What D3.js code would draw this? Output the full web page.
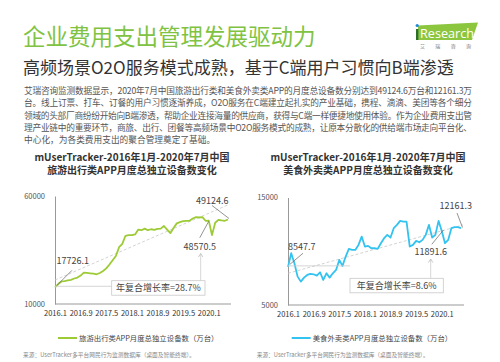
<!DOCTYPE html>
<html>
<head>
<meta charset="utf-8">
<script src="https://cdn.jsdelivr.net/npm/d3@7"></script>
<style>
  body { margin: 0; background: #fff; }
  svg { display: block; font-family: "Noto Sans CJK SC", "Noto Sans", sans-serif; }
</style>
</head>
<body>
<svg id="page" width="500" height="362"></svg>
<script>
// month index 0 = 2016.1 ... 54 = 2020.7
const xTickIdx = [0, 8, 16, 24, 32, 40, 48];
const xTickLabels = ["2016.1", "2016.9", "2017.5", "2018.1", "2018.9", "2019.5", "2020.1"];

const travelValues = [17726.1, 19236, 20444, 20595, 20897, 21199, 21803, 22256, 23162, 24521,
  24370, 24219, 24068, 23766, 24370, 25276, 26484, 28296, 30259, 32222,
  36299, 37809, 41584, 41886, 41886, 42188, 44453, 44151, 44906, 44151,
  44604, 44302, 44755, 44906, 46114, 44453, 42792, 45208, 47322, 47926,
  48379, 48530, 48530, 49587, 50191, 50040, 50191, 48530, 48570.5, 41886,
  47624, 48983, 48681, 48530, 49124.6];
const foodValues = [8547.7, 9814, 8883, 7640, 7174, 7547, 7795, 7889, 7858, 7733,
  8044, 7330, 7951, 7547, 7951, 8261, 9193, 8634, 9504, 10218,
  10125, 10125, 10591, 11367, 10436, 10498, 10280, 10280, 10218, 10746,
  11212, 11523, 11274, 12144, 12454, 12827, 12765, 12765, 10436, 10591,
  10964, 10839, 11057, 11523, 12454, 11274, 11523, 12827, 11891.6, 10746,
  11057, 12144, 12237, 12237, 12161.3];

const travelTrend = [[0, 21100], [54.5, 56200]];
const foodTrend = [[0, 7950], [54.6, 12440]];

const bodyLines = [
  "艾瑞咨询监测数据显示，2020年7月中国旅游出行类和美食外卖类APP的月度总设备数分别达到49124.6万台和12161.3万",
  "台。线上订票、打车、订餐的用户习惯逐渐养成，O2O服务在C端建立起扎实的产业基础，携程、滴滴、美团等各个细分",
  "领域的头部厂商纷纷开始向B端渗透，帮助企业连接海量的供应商，获得与C端一样便捷地使用体验。作为企业费用支出管",
  "理产业链中的重要环节，商旅、出行、团餐等高频场景中O2O服务模式的成熟，让原本分散化的供给端市场走向平台化、",
  "中心化，为各类费用支出的聚合管理奠定了基础。"
];

var svg = d3.select("#page");

// header
svg.append("text").attr("x", 23).attr("y", 45)
   .attr("font-size", 22.5).attr("fill", "#80c342")
   .text("企业费用支出管理发展驱动力");
svg.append("text").attr("x", 23).attr("y", 74)
   .attr("font-size", 17).attr("fill", "#333")
   .text("高频场景O2O服务模式成熟，基于C端用户习惯向B端渗透");

// logo
var logo = svg.append("g");
logo.append("path")
    .attr("d", "M418,25.5 L478,22.5 L472,40 L418,40 Z")
    .attr("fill", "#8cc63f");
logo.append("rect").attr("x", 416).attr("y", 29).attr("width", 2.4).attr("height", 11).attr("fill", "#2d6e2a");
logo.append("circle").attr("cx", 417.2).attr("cy", 25.5).attr("r", 1.6).attr("fill", "#1e88d8");
logo.append("text").attr("x", 420).attr("y", 38)
    .attr("font-size", 12.5).attr("fill", "#fff").attr("font-family", "Open Sans, sans-serif")
    .attr("textLength", 54).attr("lengthAdjust", "spacingAndGlyphs")
    .text("Research");
logo.append("text").attr("x", 420).attr("y", 47.5)
    .attr("font-size", 5).attr("fill", "#777")
    .attr("textLength", 51).attr("lengthAdjust", "spacing")
    .text("艾瑞咨询");

// body paragraph
bodyLines.forEach(function (line, i) {
  var t = svg.append("text")
     .attr("x", 24).attr("y", 94 + i * 12.3)
     .attr("font-size", 8.7).attr("fill", "#555")
     .text(line);
  if (i < bodyLines.length - 1) {
    t.attr("textLength", 448).attr("lengthAdjust", "spacing");
  }
});

function drawChart(cfg) {
  var g = svg.append("g");
  var x = d3.scaleLinear().domain([0, cfg.values.length - 1]).range(cfg.xRange);
  var y = d3.scaleLinear().domain(cfg.yDomain).range(cfg.yRange);

  // titles
  cfg.title.forEach(function (t, i) {
    g.append("text").attr("x", cfg.titleX).attr("y", 160.5 + i * 13.5)
     .attr("text-anchor", "middle").attr("font-size", 10)
     .attr("font-weight", "bold").attr("fill", "#333")
     .text(t);
  });

  // axes
  var xAxis = g.append("g")
    .attr("transform", "translate(0," + cfg.yRange[0] + ")")
    .call(d3.axisBottom(x).tickValues(xTickIdx)
      .tickFormat(function (d, i) { return xTickLabels[i]; })
      .tickSize(0).tickPadding(7));
  xAxis.select(".domain").attr("stroke", "#999").attr("d",
    "M" + cfg.xRange[0] + ",0H" + (cfg.xRange[1] + 3));
  xAxis.selectAll("text").attr("font-size", 7.5).attr("fill", "#333")
    .attr("font-family", "Noto Sans CJK SC, sans-serif");

  var yAxis = g.append("g")
    .attr("transform", "translate(" + cfg.xRange[0] + ",0)")
    .call(d3.axisLeft(y).tickValues(cfg.yDomain).tickFormat(d3.format("d"))
      .tickSize(0).tickPadding(10));
  yAxis.select(".domain").attr("stroke", "#999");
  yAxis.selectAll("text").attr("font-size", 7.5).attr("fill", "#555")
    .attr("font-family", "Noto Sans CJK SC, sans-serif");

  // dashed trend
  g.append("path")
   .datum(cfg.trend)
   .attr("d", d3.line().x(function (d) { return x(d[0]); }).y(function (d) { return y(d[1]); }))
   .attr("stroke", "#c8c8c8").attr("stroke-width", 0.8)
   .attr("stroke-dasharray", "3,2").attr("fill", "none");

  // series line
  g.append("path")
   .datum(cfg.values)
   .attr("d", d3.line().x(function (d, i) { return x(i); }).y(function (d) { return y(d); }))
   .attr("stroke", cfg.color).attr("stroke-width", 1.8)
   .attr("stroke-linejoin", "round").attr("fill", "none");

  // value annotations
  cfg.notes.forEach(function (n) {
    var px = x(n.i), py = y(cfg.values[n.i]);
    g.append("line")
     .attr("x1", px + n.l[0]).attr("y1", py + n.l[1])
     .attr("x2", px + n.l[2]).attr("y2", py + n.l[3])
     .attr("stroke", "#666").attr("stroke-width", 0.7);
    g.append("text")
     .attr("x", px + n.t[0]).attr("y", py + n.t[1])
     .attr("text-anchor", n.anchor).attr("font-size", 9).attr("fill", "#444")
     .text(d3.format(".1f")(cfg.values[n.i]));
  });

  // CAGR box, leader lines and arrow
  var b = cfg.box;
  var startY = y(cfg.values[0]) - 1;
  g.append("line")
   .attr("x1", cfg.xRange[0]).attr("y1", startY)
   .attr("x2", b.x).attr("y2", startY)
   .attr("stroke", "#ccc").attr("stroke-width", 0.8);
  var ax = b.arrowX, ay = b.arrowTop;
  g.append("line")
   .attr("x1", ax).attr("y1", b.y).attr("x2", ax).attr("y2", ay)
   .attr("stroke", "#ccc").attr("stroke-width", 0.8);
  g.append("path")
   .attr("d", "M" + (ax - 2.2) + "," + (ay + 3.5) + "L" + ax + "," + ay + "L" + (ax + 2.2) + "," + (ay + 3.5))
   .attr("stroke", "#bbb").attr("stroke-width", 0.8).attr("fill", "none");
  g.append("rect")
   .attr("x", b.x).attr("y", b.y).attr("width", b.w).attr("height", 14.5)
   .attr("fill", "#fff").attr("stroke", "#c8c8c8").attr("stroke-width", 0.8);
  g.append("text")
   .attr("x", b.x + b.w / 2).attr("y", b.y + 10.6)
   .attr("text-anchor", "middle").attr("font-size", 9).attr("fill", "#444")
   .text(cfg.cagr);

  // legend
  g.append("line")
   .attr("x1", cfg.legendX).attr("y1", 338).attr("x2", cfg.legendX + 19).attr("y2", 338)
   .attr("stroke", cfg.color).attr("stroke-width", 2);
  g.append("text")
   .attr("x", cfg.legendX + 21).attr("y", 340.7)
   .attr("font-size", 7.4).attr("fill", "#444")
   .text(cfg.legend);

  // source
  g.append("text")
   .attr("x", cfg.sourceX).attr("y", 357)
   .attr("font-size", 5.8).attr("fill", "#888")
   .attr("textLength", 172).attr("lengthAdjust", "spacingAndGlyphs")
   .text("来源：UserTracker多平台网民行为监测数据库（桌面及智能终端）。");
}

drawChart({
  values: travelValues,
  xRange: [55, 228], yDomain: [10000, 60000], yRange: [304, 196],
  color: "#9dcb35",
  titleX: 132,
  title: ["mUserTracker-2016年1月-2020年7月中国", "旅游出行类APP月度总独立设备数变化"],
  trend: travelTrend,
  notes: [
    { i: 0, l: [2, -2, 17, -17], t: [1.5, -23], anchor: "start" },
    { i: 54, l: [-16, -14, 1, -1], t: [0.5, -15.5], anchor: "end" },
    { i: 48, l: [-9, 17, 0, 0.5], t: [-9, 29.5], anchor: "middle" }
  ],
  box: { x: 111.7, y: 280.7, w: 93.3, arrowX: 200.7, arrowTop: 253.5 },
  cagr: "年复合增长率=28.7%",
  legendX: 58, legend: "旅游出行类APP月度总独立设备数（万台）",
  sourceX: 23
});

drawChart({
  values: foodValues,
  xRange: [288, 461], yDomain: [5000, 15000], yRange: [305, 197.5],
  color: "#33c3f0",
  titleX: 368,
  title: ["mUserTracker-2016年1月-2020年7月中国", "美食外卖类APP月度总独立设备数变化"],
  trend: foodTrend,
  notes: [
    { i: 0, l: [2, -2.6, 15, -13.6], t: [0, -17], anchor: "start" },
    { i: 54, l: [-4, -15, 1.5, -0.5], t: [11, -19], anchor: "end" },
    { i: 48, l: [-10, 13.4, 1.7, -0.9], t: [-11, 24], anchor: "middle" }
  ],
  box: { x: 350, y: 278.3, w: 93.3, arrowX: 430.7, arrowTop: 259 },
  cagr: "年复合增长率=8.6%",
  legendX: 291.7, legend: "美食外卖类APP月度总独立设备数（万台）",
  sourceX: 256.7
});
</script>
</body>
</html>
